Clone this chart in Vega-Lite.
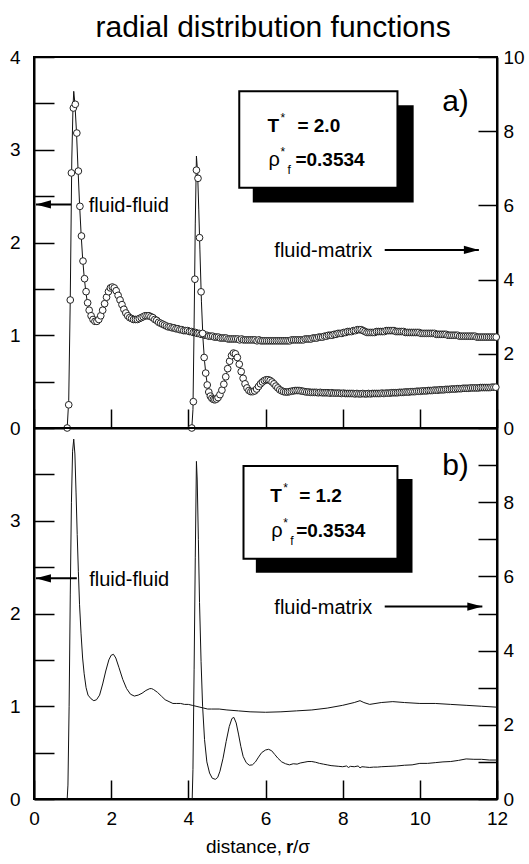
{
"$schema":"https://vega.github.io/schema/vega-lite/v6.json",
"padding":{"left":5,"top":13,"right":5,"bottom":5},
"title":{"text":"radial distribution functions","font":"Liberation Sans","fontSize":30,"fontWeight":"normal","color":"black","anchor":"middle","offset":4,"dx":8},
"datasets":{
"ffa":[{"r":0.86,"g":0},{"r":0.9,"g":0.25},{"r":0.94,"g":1.38},{"r":0.97,"g":2.75},{"r":1.02,"g":3.45},{"r":1.07,"g":3.49},{"r":1.11,"g":3.18},{"r":1.15,"g":2.77},{"r":1.19,"g":2.39},{"r":1.23,"g":2.07},{"r":1.27,"g":1.8},{"r":1.31,"g":1.61},{"r":1.35,"g":1.47},{"r":1.39,"g":1.35},{"r":1.43,"g":1.27},{"r":1.48,"g":1.21},{"r":1.53,"g":1.17},{"r":1.58,"g":1.15},{"r":1.63,"g":1.15},{"r":1.68,"g":1.17},{"r":1.73,"g":1.21},{"r":1.78,"g":1.27},{"r":1.83,"g":1.34},{"r":1.88,"g":1.41},{"r":1.93,"g":1.47},{"r":1.98,"g":1.51},{"r":2.03,"g":1.52},{"r":2.08,"g":1.51},{"r":2.13,"g":1.48},{"r":2.18,"g":1.43},{"r":2.23,"g":1.38},{"r":2.28,"g":1.33},{"r":2.33,"g":1.28},{"r":2.38,"g":1.24},{"r":2.43,"g":1.21},{"r":2.48,"g":1.19},{"r":2.53,"g":1.18},{"r":2.58,"g":1.17},{"r":2.63,"g":1.17},{"r":2.68,"g":1.17},{"r":2.73,"g":1.18},{"r":2.78,"g":1.19},{"r":2.83,"g":1.2},{"r":2.88,"g":1.21},{"r":2.93,"g":1.21},{"r":2.98,"g":1.21},{"r":3.03,"g":1.2},{"r":3.08,"g":1.19},{"r":3.13,"g":1.17},{"r":3.18,"g":1.16},{"r":3.23,"g":1.14},{"r":3.28,"g":1.13},{"r":3.33,"g":1.12},{"r":3.38,"g":1.11},{"r":3.43,"g":1.1},{"r":3.48,"g":1.09},{"r":3.53,"g":1.09},{"r":3.58,"g":1.08},{"r":3.63,"g":1.08},{"r":3.68,"g":1.07},{"r":3.73,"g":1.07},{"r":3.78,"g":1.06},{"r":3.83,"g":1.06},{"r":3.88,"g":1.05},{"r":3.93,"g":1.05},{"r":3.98,"g":1.05},{"r":4.03,"g":1.04},{"r":4.08,"g":1.04},{"r":4.13,"g":1.03},{"r":4.18,"g":1.03},{"r":4.23,"g":1.02},{"r":4.28,"g":1.02},{"r":4.33,"g":1.01},{"r":4.38,"g":1.01},{"r":4.43,"g":1},{"r":4.48,"g":1},{"r":4.53,"g":0.99},{"r":4.58,"g":0.99},{"r":4.63,"g":0.99},{"r":4.68,"g":0.98},{"r":4.73,"g":0.98},{"r":4.78,"g":0.98},{"r":4.83,"g":0.97},{"r":4.88,"g":0.97},{"r":4.93,"g":0.97},{"r":4.98,"g":0.97},{"r":5.03,"g":0.96},{"r":5.08,"g":0.96},{"r":5.13,"g":0.96},{"r":5.18,"g":0.96},{"r":5.23,"g":0.96},{"r":5.28,"g":0.96},{"r":5.33,"g":0.95},{"r":5.38,"g":0.96},{"r":5.43,"g":0.95},{"r":5.48,"g":0.95},{"r":5.53,"g":0.95},{"r":5.58,"g":0.95},{"r":5.63,"g":0.95},{"r":5.68,"g":0.95},{"r":5.73,"g":0.95},{"r":5.78,"g":0.94},{"r":5.83,"g":0.95},{"r":5.88,"g":0.94},{"r":5.93,"g":0.94},{"r":5.98,"g":0.94},{"r":6.03,"g":0.94},{"r":6.08,"g":0.94},{"r":6.13,"g":0.94},{"r":6.18,"g":0.94},{"r":6.23,"g":0.94},{"r":6.28,"g":0.94},{"r":6.33,"g":0.94},{"r":6.38,"g":0.94},{"r":6.43,"g":0.94},{"r":6.48,"g":0.94},{"r":6.53,"g":0.94},{"r":6.58,"g":0.94},{"r":6.63,"g":0.94},{"r":6.68,"g":0.95},{"r":6.73,"g":0.95},{"r":6.78,"g":0.95},{"r":6.83,"g":0.95},{"r":6.88,"g":0.95},{"r":6.93,"g":0.95},{"r":6.98,"g":0.95},{"r":7.03,"g":0.96},{"r":7.08,"g":0.96},{"r":7.13,"g":0.96},{"r":7.18,"g":0.96},{"r":7.23,"g":0.97},{"r":7.28,"g":0.97},{"r":7.33,"g":0.97},{"r":7.38,"g":0.98},{"r":7.43,"g":0.98},{"r":7.48,"g":0.98},{"r":7.53,"g":0.99},{"r":7.58,"g":0.99},{"r":7.63,"g":1},{"r":7.68,"g":1},{"r":7.73,"g":1},{"r":7.78,"g":1.01},{"r":7.83,"g":1.01},{"r":7.88,"g":1.02},{"r":7.93,"g":1.02},{"r":7.98,"g":1.02},{"r":8.03,"g":1.03},{"r":8.08,"g":1.03},{"r":8.13,"g":1.04},{"r":8.18,"g":1.04},{"r":8.23,"g":1.04},{"r":8.28,"g":1.05},{"r":8.33,"g":1.05},{"r":8.38,"g":1.06},{"r":8.43,"g":1.06},{"r":8.48,"g":1.06},{"r":8.53,"g":1.05},{"r":8.58,"g":1.04},{"r":8.63,"g":1.03},{"r":8.68,"g":1.03},{"r":8.73,"g":1.03},{"r":8.78,"g":1.03},{"r":8.83,"g":1.03},{"r":8.88,"g":1.04},{"r":8.93,"g":1.04},{"r":8.98,"g":1.04},{"r":9.03,"g":1.04},{"r":9.08,"g":1.04},{"r":9.13,"g":1.05},{"r":9.18,"g":1.05},{"r":9.23,"g":1.05},{"r":9.28,"g":1.05},{"r":9.33,"g":1.05},{"r":9.38,"g":1.04},{"r":9.43,"g":1.04},{"r":9.48,"g":1.04},{"r":9.53,"g":1.04},{"r":9.58,"g":1.04},{"r":9.63,"g":1.03},{"r":9.68,"g":1.03},{"r":9.73,"g":1.03},{"r":9.78,"g":1.03},{"r":9.83,"g":1.03},{"r":9.88,"g":1.03},{"r":9.93,"g":1.03},{"r":9.98,"g":1.03},{"r":10.03,"g":1.02},{"r":10.08,"g":1.02},{"r":10.13,"g":1.02},{"r":10.18,"g":1.02},{"r":10.23,"g":1.02},{"r":10.28,"g":1.02},{"r":10.33,"g":1.02},{"r":10.38,"g":1.02},{"r":10.43,"g":1.01},{"r":10.48,"g":1.01},{"r":10.53,"g":1.01},{"r":10.58,"g":1.01},{"r":10.63,"g":1.01},{"r":10.68,"g":1.01},{"r":10.73,"g":1},{"r":10.78,"g":1},{"r":10.83,"g":1},{"r":10.88,"g":1},{"r":10.93,"g":1},{"r":10.98,"g":1},{"r":11.03,"g":0.99},{"r":11.08,"g":0.99},{"r":11.13,"g":0.99},{"r":11.18,"g":0.99},{"r":11.23,"g":0.99},{"r":11.28,"g":0.99},{"r":11.33,"g":0.99},{"r":11.38,"g":0.99},{"r":11.43,"g":0.99},{"r":11.48,"g":0.98},{"r":11.53,"g":0.98},{"r":11.58,"g":0.98},{"r":11.63,"g":0.98},{"r":11.68,"g":0.98},{"r":11.73,"g":0.98},{"r":11.78,"g":0.98},{"r":11.83,"g":0.98},{"r":11.88,"g":0.98},{"r":11.93,"g":0.98},{"r":11.98,"g":0.98}],
"fma":[{"r":4.09,"g":0},{"r":4.13,"g":0.71},{"r":4.17,"g":4.01},{"r":4.21,"g":6.95},{"r":4.25,"g":6.73},{"r":4.29,"g":5.13},{"r":4.33,"g":3.67},{"r":4.37,"g":2.55},{"r":4.41,"g":1.9},{"r":4.45,"g":1.48},{"r":4.49,"g":1.16},{"r":4.53,"g":0.97},{"r":4.57,"g":0.86},{"r":4.61,"g":0.8},{"r":4.65,"g":0.77},{"r":4.69,"g":0.76},{"r":4.73,"g":0.78},{"r":4.77,"g":0.82},{"r":4.82,"g":0.9},{"r":4.87,"g":1.02},{"r":4.92,"g":1.18},{"r":4.97,"g":1.38},{"r":5.02,"g":1.6},{"r":5.07,"g":1.8},{"r":5.12,"g":1.95},{"r":5.17,"g":2.02},{"r":5.22,"g":2},{"r":5.27,"g":1.9},{"r":5.32,"g":1.72},{"r":5.37,"g":1.52},{"r":5.42,"g":1.34},{"r":5.47,"g":1.19},{"r":5.52,"g":1.08},{"r":5.57,"g":1.01},{"r":5.62,"g":0.98},{"r":5.67,"g":0.98},{"r":5.72,"g":1},{"r":5.77,"g":1.05},{"r":5.82,"g":1.12},{"r":5.87,"g":1.19},{"r":5.92,"g":1.24},{"r":5.97,"g":1.28},{"r":6.02,"g":1.3},{"r":6.07,"g":1.3},{"r":6.12,"g":1.28},{"r":6.17,"g":1.24},{"r":6.22,"g":1.19},{"r":6.27,"g":1.13},{"r":6.32,"g":1.08},{"r":6.37,"g":1.03},{"r":6.42,"g":1},{"r":6.47,"g":0.98},{"r":6.52,"g":0.97},{"r":6.57,"g":0.97},{"r":6.62,"g":0.98},{"r":6.67,"g":0.99},{"r":6.72,"g":1},{"r":6.77,"g":1.01},{"r":6.82,"g":1.01},{"r":6.87,"g":1.01},{"r":6.92,"g":1},{"r":6.97,"g":0.99},{"r":7.02,"g":0.98},{"r":7.07,"g":0.97},{"r":7.12,"g":0.97},{"r":7.17,"g":0.96},{"r":7.22,"g":0.96},{"r":7.27,"g":0.96},{"r":7.32,"g":0.96},{"r":7.37,"g":0.95},{"r":7.42,"g":0.96},{"r":7.47,"g":0.95},{"r":7.52,"g":0.95},{"r":7.57,"g":0.95},{"r":7.62,"g":0.95},{"r":7.67,"g":0.94},{"r":7.72,"g":0.95},{"r":7.77,"g":0.94},{"r":7.82,"g":0.94},{"r":7.87,"g":0.94},{"r":7.92,"g":0.94},{"r":7.97,"g":0.93},{"r":8.02,"g":0.94},{"r":8.07,"g":0.93},{"r":8.12,"g":0.93},{"r":8.17,"g":0.93},{"r":8.22,"g":0.93},{"r":8.27,"g":0.93},{"r":8.32,"g":0.92},{"r":8.37,"g":0.93},{"r":8.42,"g":0.92},{"r":8.47,"g":0.92},{"r":8.52,"g":0.93},{"r":8.57,"g":0.92},{"r":8.62,"g":0.92},{"r":8.67,"g":0.93},{"r":8.72,"g":0.92},{"r":8.77,"g":0.93},{"r":8.82,"g":0.93},{"r":8.87,"g":0.93},{"r":8.92,"g":0.93},{"r":8.97,"g":0.93},{"r":9.02,"g":0.94},{"r":9.07,"g":0.93},{"r":9.12,"g":0.94},{"r":9.17,"g":0.94},{"r":9.22,"g":0.94},{"r":9.27,"g":0.95},{"r":9.32,"g":0.95},{"r":9.37,"g":0.95},{"r":9.42,"g":0.95},{"r":9.47,"g":0.96},{"r":9.52,"g":0.96},{"r":9.57,"g":0.96},{"r":9.62,"g":0.97},{"r":9.67,"g":0.97},{"r":9.72,"g":0.97},{"r":9.77,"g":0.98},{"r":9.82,"g":0.98},{"r":9.87,"g":0.98},{"r":9.92,"g":0.99},{"r":9.97,"g":0.99},{"r":10.02,"g":0.99},{"r":10.07,"g":1},{"r":10.12,"g":1},{"r":10.17,"g":1},{"r":10.22,"g":1.01},{"r":10.27,"g":1.01},{"r":10.32,"g":1.01},{"r":10.37,"g":1.02},{"r":10.42,"g":1.02},{"r":10.47,"g":1.02},{"r":10.52,"g":1.03},{"r":10.57,"g":1.03},{"r":10.62,"g":1.03},{"r":10.67,"g":1.04},{"r":10.72,"g":1.04},{"r":10.77,"g":1.04},{"r":10.82,"g":1.05},{"r":10.87,"g":1.05},{"r":10.92,"g":1.05},{"r":10.97,"g":1.06},{"r":11.02,"g":1.06},{"r":11.07,"g":1.06},{"r":11.12,"g":1.07},{"r":11.17,"g":1.07},{"r":11.22,"g":1.07},{"r":11.27,"g":1.07},{"r":11.32,"g":1.08},{"r":11.37,"g":1.08},{"r":11.42,"g":1.08},{"r":11.47,"g":1.08},{"r":11.52,"g":1.08},{"r":11.57,"g":1.09},{"r":11.62,"g":1.09},{"r":11.67,"g":1.09},{"r":11.72,"g":1.09},{"r":11.77,"g":1.09},{"r":11.82,"g":1.09},{"r":11.87,"g":1.1},{"r":11.92,"g":1.1},{"r":11.97,"g":1.1}],
"ffa_line":[{"r":0.8,"g":0},{"r":0.86,"g":0},{"r":0.9,"g":0.3},{"r":0.94,"g":1.4},{"r":0.98,"g":2.9},{"r":1.01,"g":3.45},{"r":1.03,"g":3.63},{"r":1.06,"g":3.5},{"r":1.1,"g":3.2},{"r":1.14,"g":2.8},{"r":1.18,"g":2.42},{"r":1.22,"g":2.1},{"r":1.26,"g":1.83},{"r":1.3,"g":1.63},{"r":1.34,"g":1.48},{"r":1.38,"g":1.36},{"r":1.42,"g":1.27},{"r":1.48,"g":1.2},{"r":1.55,"g":1.15},{"r":1.62,"g":1.14},{"r":1.7,"g":1.18},{"r":1.8,"g":1.3},{"r":1.9,"g":1.44},{"r":2,"g":1.52},{"r":2.05,"g":1.53},{"r":2.1,"g":1.51},{"r":2.2,"g":1.43},{"r":2.3,"g":1.32},{"r":2.4,"g":1.23},{"r":2.5,"g":1.18},{"r":2.6,"g":1.17},{"r":2.7,"g":1.18},{"r":2.8,"g":1.2},{"r":2.9,"g":1.21},{"r":3,"g":1.21},{"r":3.1,"g":1.18},{"r":3.2,"g":1.15},{"r":3.4,"g":1.11},{"r":3.6,"g":1.08},{"r":3.8,"g":1.06},{"r":4,"g":1.05},{"r":4.4,"g":1.01},{"r":4.8,"g":0.98},{"r":5.2,"g":0.96},{"r":6,"g":0.94},{"r":6.6,"g":0.94},{"r":7,"g":0.95},{"r":7.5,"g":0.98},{"r":8,"g":1.02},{"r":8.45,"g":1.06},{"r":8.6,"g":1.04},{"r":9,"g":1.04},{"r":9.3,"g":1.05},{"r":10,"g":1.03},{"r":11,"g":1},{"r":12,"g":0.98}],
"fma_line":[{"r":4.05,"g":0},{"r":4.09,"g":0},{"r":4.12,"g":0.5},{"r":4.15,"g":2.8},{"r":4.18,"g":5.5},{"r":4.21,"g":7.33},{"r":4.24,"g":6.9},{"r":4.27,"g":5.9},{"r":4.3,"g":4.8},{"r":4.34,"g":3.4},{"r":4.38,"g":2.4},{"r":4.42,"g":1.8},{"r":4.46,"g":1.4},{"r":4.5,"g":1.12},{"r":4.55,"g":0.92},{"r":4.6,"g":0.82},{"r":4.7,"g":0.77},{"r":4.8,"g":0.86},{"r":4.9,"g":1.12},{"r":5,"g":1.5},{"r":5.1,"g":1.9},{"r":5.2,"g":2.02},{"r":5.3,"g":1.8},{"r":5.4,"g":1.4},{"r":5.5,"g":1.1},{"r":5.6,"g":0.98},{"r":5.7,"g":0.99},{"r":5.8,"g":1.1},{"r":5.9,"g":1.22},{"r":6.05,"g":1.3},{"r":6.2,"g":1.21},{"r":6.3,"g":1.1},{"r":6.4,"g":1.01},{"r":6.5,"g":0.97},{"r":6.7,"g":0.99},{"r":6.85,"g":1.01},{"r":7,"g":0.98},{"r":7.5,"g":0.95},{"r":8,"g":0.94},{"r":8.5,"g":0.92},{"r":9,"g":0.94},{"r":9.5,"g":0.96},{"r":10,"g":0.99},{"r":10.5,"g":1.02},{"r":11,"g":1.06},{"r":11.5,"g":1.08},{"r":12,"g":1.1}],
"ffb":[{"r":0.8,"g":0},{"r":0.86,"g":0},{"r":0.88,"g":0.15},{"r":0.91,"g":1},{"r":0.94,"g":2.2},{"r":0.97,"g":3.2},{"r":1,"g":3.75},{"r":1.03,"g":3.88},{"r":1.06,"g":3.72},{"r":1.09,"g":3.3},{"r":1.12,"g":2.85},{"r":1.15,"g":2.45},{"r":1.18,"g":2.1},{"r":1.22,"g":1.78},{"r":1.26,"g":1.52},{"r":1.3,"g":1.35},{"r":1.35,"g":1.2},{"r":1.4,"g":1.12},{"r":1.48,"g":1.08},{"r":1.55,"g":1.06},{"r":1.62,"g":1.07},{"r":1.7,"g":1.12},{"r":1.78,"g":1.24},{"r":1.86,"g":1.38},{"r":1.94,"g":1.5},{"r":2,"g":1.55},{"r":2.06,"g":1.56},{"r":2.12,"g":1.52},{"r":2.2,"g":1.42},{"r":2.3,"g":1.29},{"r":2.4,"g":1.19},{"r":2.5,"g":1.13},{"r":2.6,"g":1.11},{"r":2.7,"g":1.12},{"r":2.8,"g":1.14},{"r":2.9,"g":1.17},{"r":3,"g":1.19},{"r":3.05,"g":1.19},{"r":3.1,"g":1.18},{"r":3.2,"g":1.15},{"r":3.3,"g":1.11},{"r":3.4,"g":1.07},{"r":3.5,"g":1.05},{"r":3.6,"g":1.03},{"r":3.7,"g":1.03},{"r":3.8,"g":1.03},{"r":3.9,"g":1.02},{"r":4,"g":1.02},{"r":4.1,"g":1.01},{"r":4.2,"g":1},{"r":4.3,"g":0.99},{"r":4.4,"g":0.98},{"r":4.5,"g":0.97},{"r":4.6,"g":0.97},{"r":4.8,"g":0.97},{"r":5,"g":0.96},{"r":5.3,"g":0.95},{"r":5.6,"g":0.94},{"r":6,"g":0.935},{"r":6.4,"g":0.94},{"r":6.8,"g":0.95},{"r":7.2,"g":0.96},{"r":7.6,"g":0.98},{"r":8,"g":1.01},{"r":8.3,"g":1.04},{"r":8.45,"g":1.06},{"r":8.55,"g":1.04},{"r":8.7,"g":1.02},{"r":9,"g":1.04},{"r":9.3,"g":1.05},{"r":9.6,"g":1.04},{"r":10,"g":1.03},{"r":10.4,"g":1.03},{"r":10.8,"g":1.02},{"r":11.2,"g":1.01},{"r":11.6,"g":1},{"r":12,"g":0.99}],
"fmb":[{"r":4.05,"g":0},{"r":4.1,"g":0},{"r":4.12,"g":0.8},{"r":4.15,"g":3.5},{"r":4.18,"g":6.5},{"r":4.21,"g":9.1},{"r":4.23,"g":8.6},{"r":4.26,"g":7},{"r":4.29,"g":5.3},{"r":4.33,"g":3.7},{"r":4.37,"g":2.5},{"r":4.42,"g":1.6},{"r":4.48,"g":1},{"r":4.55,"g":0.7},{"r":4.62,"g":0.56},{"r":4.7,"g":0.53},{"r":4.76,"g":0.58},{"r":4.82,"g":0.75},{"r":4.9,"g":1.1},{"r":4.98,"g":1.55},{"r":5.06,"g":1.95},{"r":5.13,"g":2.17},{"r":5.18,"g":2.2},{"r":5.24,"g":2.05},{"r":5.3,"g":1.75},{"r":5.36,"g":1.42},{"r":5.42,"g":1.15},{"r":5.5,"g":0.98},{"r":5.58,"g":0.91},{"r":5.66,"g":0.92},{"r":5.74,"g":1},{"r":5.82,"g":1.13},{"r":5.9,"g":1.25},{"r":6,"g":1.32},{"r":6.08,"g":1.34},{"r":6.16,"g":1.3},{"r":6.24,"g":1.2},{"r":6.32,"g":1.1},{"r":6.42,"g":1},{"r":6.52,"g":0.95},{"r":6.62,"g":0.92},{"r":6.72,"g":0.95},{"r":6.82,"g":0.94},{"r":6.9,"g":0.97},{"r":7,"g":0.99},{"r":7.1,"g":1.01},{"r":7.2,"g":1.01},{"r":7.3,"g":0.99},{"r":7.4,"g":0.96},{"r":7.5,"g":0.94},{"r":7.6,"g":0.92},{"r":7.7,"g":0.9},{"r":7.8,"g":0.89},{"r":7.9,"g":0.88},{"r":8,"g":0.87},{"r":8.1,"g":0.89},{"r":8.15,"g":0.85},{"r":8.2,"g":0.88},{"r":8.3,"g":0.87},{"r":8.4,"g":0.89},{"r":8.45,"g":0.84},{"r":8.5,"g":0.87},{"r":8.6,"g":0.86},{"r":8.7,"g":0.85},{"r":8.8,"g":0.86},{"r":8.9,"g":0.86},{"r":9,"g":0.87},{"r":9.2,"g":0.88},{"r":9.4,"g":0.89},{"r":9.6,"g":0.91},{"r":9.8,"g":0.92},{"r":10,"g":0.96},{"r":10.2,"g":0.96},{"r":10.4,"g":0.98},{"r":10.6,"g":1},{"r":10.8,"g":1.01},{"r":11,"g":1.04},{"r":11.2,"g":1.08},{"r":11.4,"g":1.07},{"r":11.6,"g":1.07},{"r":11.8,"g":1.05},{"r":12,"g":1.05}]
},
"spacing":0,
"bounds":"flush",
"vconcat":[
{
"width":463,"height":371,
"layer":[
{"layer":[
{"data":{"name":"ffa_line"},"mark":{"type":"line","color":"#111","strokeWidth":1},
"encoding":{"x":{"field":"r","type":"quantitative","scale":{"domain":[0,12],"nice":false,"zero":false},"axis":{"values":[0,1,2,3,4,5,6,7,8,9,10,11,12],"labels":false,"title":null,"tickSize":{"condition":{"test":"datum.value % 2 === 0","value":-19},"value":-11}}},
"y":{"field":"g","type":"quantitative","scale":{"domain":[0,4],"nice":false,"zero":false},"axis":{"values":[0,0.5,1,1.5,2,2.5,3,3.5,4],"labelExpr":"datum.value % 1 === 0 ? '' + datum.value : ''","tickSize":-20,"labelPadding":34,"title":null,"minExtent":28,"maxExtent":28}}}},
{"data":{"name":"ffa"},"mark":{"type":"point","shape":"circle","filled":true,"fill":"white","stroke":"#222","strokeWidth":1,"size":45,"opacity":1},
"encoding":{"x":{"field":"r","type":"quantitative","scale":{"domain":[0,12],"nice":false,"zero":false}},"y":{"field":"g","type":"quantitative","scale":{"domain":[0,4],"nice":false,"zero":false}}}},
{"data":{"values":[{}]},"mark":{"type":"rect","color":"black"},
"encoding":{"x":{"datum":5.67,"type":"quantitative","scale":{"domain":[0,12],"nice":false,"zero":false}},"x2":{"datum":9.84},"y":{"datum":3.48,"type":"quantitative","scale":{"domain":[0,4],"nice":false,"zero":false}},"y2":{"datum":2.43}}},
{"data":{"values":[{}]},"mark":{"type":"rect","fill":"white","stroke":"black","strokeWidth":2},
"encoding":{"x":{"datum":5.32,"type":"quantitative","scale":{"domain":[0,12],"nice":false,"zero":false}},"x2":{"datum":9.42},"y":{"datum":3.63,"type":"quantitative","scale":{"domain":[0,4],"nice":false,"zero":false}},"y2":{"datum":2.59}}},
{"data":{"values":[{}]},
"encoding":{"x":{"datum":6.05,"type":"quantitative","scale":{"domain":[0,12],"nice":false,"zero":false}},"y":{"datum":3.195,"type":"quantitative","scale":{"domain":[0,4],"nice":false,"zero":false}}},
"layer":[
{"mark":{"type":"text","text":"T","font":"Liberation Sans","fontWeight":"bold","fontSize":19,"align":"left","baseline":"alphabetic","color":"black"}},
{"mark":{"type":"text","text":"*","font":"Liberation Sans","fontSize":12,"align":"left","baseline":"alphabetic","dx":13,"dy":-10,"color":"black"}},
{"mark":{"type":"text","text":"= 2.0","font":"Liberation Sans","fontWeight":"bold","fontSize":19,"align":"left","baseline":"alphabetic","dx":30,"color":"black"}}
]},
{"data":{"values":[{}]},
"encoding":{"x":{"datum":6.05,"type":"quantitative","scale":{"domain":[0,12],"nice":false,"zero":false}},"y":{"datum":2.825,"type":"quantitative","scale":{"domain":[0,4],"nice":false,"zero":false}}},
"layer":[
{"mark":{"type":"text","text":"ρ","font":"Liberation Sans","fontSize":20,"align":"left","baseline":"alphabetic","dx":1,"color":"black"}},
{"mark":{"type":"text","text":"*","font":"Liberation Sans","fontSize":12,"align":"left","baseline":"alphabetic","dx":13,"dy":-10,"color":"black"}},
{"mark":{"type":"text","text":"f","font":"Liberation Sans","fontSize":12,"align":"left","baseline":"alphabetic","dx":20,"dy":8,"color":"black"}},
{"mark":{"type":"text","text":"=0.3534","font":"Liberation Sans","fontWeight":"bold","fontSize":19,"align":"left","baseline":"alphabetic","dx":28,"color":"black"}}
]},
{"data":{"values":[{}]},"mark":{"type":"rule","strokeWidth":2,"color":"black"},
"encoding":{"x":{"datum":0.05,"type":"quantitative","scale":{"domain":[0,12],"nice":false,"zero":false}},"x2":{"datum":0.96},"y":{"datum":2.41,"type":"quantitative","scale":{"domain":[0,4],"nice":false,"zero":false}}}},
{"data":{"values":[{}]},"mark":{"type":"point","shape":"M0,0L2,-0.55L2,0.55Z","filled":true,"color":"black","size":225,"opacity":1},
"encoding":{"x":{"datum":0.05,"type":"quantitative","scale":{"domain":[0,12],"nice":false,"zero":false}},"y":{"datum":2.41,"type":"quantitative","scale":{"domain":[0,4],"nice":false,"zero":false}}}},
{"data":{"values":[{}]},"mark":{"type":"text","text":"fluid-fluid","font":"Liberation Sans","fontSize":20,"align":"left","baseline":"middle","dy":2,"color":"black"},
"encoding":{"x":{"datum":1.42,"type":"quantitative","scale":{"domain":[0,12],"nice":false,"zero":false}},"y":{"datum":2.41,"type":"quantitative","scale":{"domain":[0,4],"nice":false,"zero":false}}}},
{"data":{"values":[{}]},"mark":{"type":"rule","strokeWidth":2,"color":"black"},
"encoding":{"x":{"datum":9.09,"type":"quantitative","scale":{"domain":[0,12],"nice":false,"zero":false}},"x2":{"datum":11.53},"y":{"datum":1.92,"type":"quantitative","scale":{"domain":[0,4],"nice":false,"zero":false}}}},
{"data":{"values":[{}]},"mark":{"type":"point","shape":"M0,0L-2,-0.55L-2,0.55Z","filled":true,"color":"black","size":225,"opacity":1},
"encoding":{"x":{"datum":11.53,"type":"quantitative","scale":{"domain":[0,12],"nice":false,"zero":false}},"y":{"datum":1.92,"type":"quantitative","scale":{"domain":[0,4],"nice":false,"zero":false}}}},
{"data":{"values":[{}]},"mark":{"type":"text","text":"fluid-matrix","font":"Liberation Sans","fontSize":20,"align":"left","baseline":"middle","dy":1,"color":"black"},
"encoding":{"x":{"datum":6.23,"type":"quantitative","scale":{"domain":[0,12],"nice":false,"zero":false}},"y":{"datum":1.92,"type":"quantitative","scale":{"domain":[0,4],"nice":false,"zero":false}}}},
{"data":{"values":[{}]},"mark":{"type":"text","text":"a)","font":"Liberation Sans","fontSize":30,"align":"right","baseline":"alphabetic","color":"black"},
"encoding":{"x":{"datum":11.27,"type":"quantitative","scale":{"domain":[0,12],"nice":false,"zero":false}},"y":{"datum":3.42,"type":"quantitative","scale":{"domain":[0,4],"nice":false,"zero":false}}}}
]},
{"layer":[
{"data":{"name":"fma_line"},"mark":{"type":"line","color":"#111","strokeWidth":1},
"encoding":{"x":{"field":"r","type":"quantitative","scale":{"domain":[0,12],"nice":false,"zero":false}},
"y":{"field":"g","type":"quantitative","scale":{"domain":[0,10],"nice":false,"zero":false},"axis":{"orient":"right","values":[0,1,2,3,4,5,6,7,8,9,10],"labelExpr":"datum.value % 2 === 0 ? '' + datum.value : ''","tickSize":-19,"labelPadding":25,"title":null}}}},
{"data":{"name":"fma"},"mark":{"type":"point","shape":"circle","filled":true,"fill":"white","stroke":"#222","strokeWidth":1,"size":45,"opacity":1},
"encoding":{"x":{"field":"r","type":"quantitative","scale":{"domain":[0,12],"nice":false,"zero":false}},"y":{"field":"g","type":"quantitative","scale":{"domain":[0,10],"nice":false,"zero":false}}}}
]}
],
"resolve":{"scale":{"y":"independent"}}
},
{
"width":463,"height":371,
"layer":[
{"layer":[
{"data":{"name":"ffb"},"mark":{"type":"line","color":"#111","strokeWidth":1},
"encoding":{"x":{"field":"r","type":"quantitative","scale":{"domain":[0,12],"nice":false,"zero":false},"axis":{"values":[0,1,2,3,4,5,6,7,8,9,10,11,12],"labelExpr":"datum.value % 2 === 0 ? '' + datum.value : ''","labelPadding":29,"title":null,"tickSize":{"condition":{"test":"datum.value % 2 === 0","value":-19},"value":-11}}},
"y":{"field":"g","type":"quantitative","scale":{"domain":[0,4],"nice":false,"zero":false},"axis":{"values":[0,0.5,1,1.5,2,2.5,3,3.5],"labelExpr":"datum.value % 1 === 0 ? '' + datum.value : ''","tickSize":-20,"labelPadding":34,"title":null,"minExtent":28,"maxExtent":28}}}},
{"data":{"values":[{}]},"mark":{"type":"rect","color":"black"},
"encoding":{"x":{"datum":5.75,"type":"quantitative","scale":{"domain":[0,12],"nice":false,"zero":false}},"x2":{"datum":9.81},"y":{"datum":3.45,"type":"quantitative","scale":{"domain":[0,4],"nice":false,"zero":false}},"y2":{"datum":2.44}}},
{"data":{"values":[{}]},"mark":{"type":"rect","fill":"white","stroke":"black","strokeWidth":2},
"encoding":{"x":{"datum":5.43,"type":"quantitative","scale":{"domain":[0,12],"nice":false,"zero":false}},"x2":{"datum":9.42},"y":{"datum":3.59,"type":"quantitative","scale":{"domain":[0,4],"nice":false,"zero":false}},"y2":{"datum":2.59}}},
{"data":{"values":[{}]},
"encoding":{"x":{"datum":6.12,"type":"quantitative","scale":{"domain":[0,12],"nice":false,"zero":false}},"y":{"datum":3.2,"type":"quantitative","scale":{"domain":[0,4],"nice":false,"zero":false}}},
"layer":[
{"mark":{"type":"text","text":"T","font":"Liberation Sans","fontWeight":"bold","fontSize":19,"align":"left","baseline":"alphabetic","color":"black"}},
{"mark":{"type":"text","text":"*","font":"Liberation Sans","fontSize":12,"align":"left","baseline":"alphabetic","dx":13,"dy":-10,"color":"black"}},
{"mark":{"type":"text","text":"= 1.2","font":"Liberation Sans","fontWeight":"bold","fontSize":19,"align":"left","baseline":"alphabetic","dx":29,"color":"black"}}
]},
{"data":{"values":[{}]},
"encoding":{"x":{"datum":6.12,"type":"quantitative","scale":{"domain":[0,12],"nice":false,"zero":false}},"y":{"datum":2.83,"type":"quantitative","scale":{"domain":[0,4],"nice":false,"zero":false}}},
"layer":[
{"mark":{"type":"text","text":"ρ","font":"Liberation Sans","fontSize":20,"align":"left","baseline":"alphabetic","dx":1,"color":"black"}},
{"mark":{"type":"text","text":"*","font":"Liberation Sans","fontSize":12,"align":"left","baseline":"alphabetic","dx":13,"dy":-10,"color":"black"}},
{"mark":{"type":"text","text":"f","font":"Liberation Sans","fontSize":12,"align":"left","baseline":"alphabetic","dx":20,"dy":8,"color":"black"}},
{"mark":{"type":"text","text":"=0.3534","font":"Liberation Sans","fontWeight":"bold","fontSize":19,"align":"left","baseline":"alphabetic","dx":26,"color":"black"}}
]},
{"data":{"values":[{}]},"mark":{"type":"rule","strokeWidth":2,"color":"black"},
"encoding":{"x":{"datum":0.05,"type":"quantitative","scale":{"domain":[0,12],"nice":false,"zero":false}},"x2":{"datum":1.11},"y":{"datum":2.38,"type":"quantitative","scale":{"domain":[0,4],"nice":false,"zero":false}}}},
{"data":{"values":[{}]},"mark":{"type":"point","shape":"M0,0L2,-0.55L2,0.55Z","filled":true,"color":"black","size":225,"opacity":1},
"encoding":{"x":{"datum":0.05,"type":"quantitative","scale":{"domain":[0,12],"nice":false,"zero":false}},"y":{"datum":2.38,"type":"quantitative","scale":{"domain":[0,4],"nice":false,"zero":false}}}},
{"data":{"values":[{}]},"mark":{"type":"text","text":"fluid-fluid","font":"Liberation Sans","fontSize":20,"align":"left","baseline":"middle","dy":2,"color":"black"},
"encoding":{"x":{"datum":1.43,"type":"quantitative","scale":{"domain":[0,12],"nice":false,"zero":false}},"y":{"datum":2.38,"type":"quantitative","scale":{"domain":[0,4],"nice":false,"zero":false}}}},
{"data":{"values":[{}]},"mark":{"type":"rule","strokeWidth":2,"color":"black"},
"encoding":{"x":{"datum":9.09,"type":"quantitative","scale":{"domain":[0,12],"nice":false,"zero":false}},"x2":{"datum":11.62},"y":{"datum":2.075,"type":"quantitative","scale":{"domain":[0,4],"nice":false,"zero":false}}}},
{"data":{"values":[{}]},"mark":{"type":"point","shape":"M0,0L-2,-0.55L-2,0.55Z","filled":true,"color":"black","size":225,"opacity":1},
"encoding":{"x":{"datum":11.62,"type":"quantitative","scale":{"domain":[0,12],"nice":false,"zero":false}},"y":{"datum":2.075,"type":"quantitative","scale":{"domain":[0,4],"nice":false,"zero":false}}}},
{"data":{"values":[{}]},"mark":{"type":"text","text":"fluid-matrix","font":"Liberation Sans","fontSize":20,"align":"left","baseline":"middle","dy":1,"color":"black"},
"encoding":{"x":{"datum":6.23,"type":"quantitative","scale":{"domain":[0,12],"nice":false,"zero":false}},"y":{"datum":2.075,"type":"quantitative","scale":{"domain":[0,4],"nice":false,"zero":false}}}},
{"data":{"values":[{}]},"mark":{"type":"text","text":"b)","font":"Liberation Sans","fontSize":30,"align":"right","baseline":"alphabetic","color":"black"},
"encoding":{"x":{"datum":11.27,"type":"quantitative","scale":{"domain":[0,12],"nice":false,"zero":false}},"y":{"datum":3.49,"type":"quantitative","scale":{"domain":[0,4],"nice":false,"zero":false}}}},
{"data":{"values":[{}]},
"encoding":{"x":{"datum":4.456,"type":"quantitative","scale":{"domain":[0,12],"nice":false,"zero":false}},"y":{"datum":-0.58,"type":"quantitative","scale":{"domain":[0,4],"nice":false,"zero":false}}},
"layer":[
{"mark":{"type":"text","text":"distance,","font":"Liberation Sans","fontSize":19,"align":"left","baseline":"alphabetic","color":"black"}},
{"mark":{"type":"text","text":"r","font":"Liberation Sans","fontWeight":"bold","fontSize":19,"align":"left","baseline":"alphabetic","dx":80,"color":"black"}},
{"mark":{"type":"text","text":"/σ","font":"Liberation Sans","fontSize":19,"align":"left","baseline":"alphabetic","dx":87,"color":"black"}}
]}
]},
{"layer":[
{"data":{"name":"fmb"},"mark":{"type":"line","color":"#111","strokeWidth":1},
"encoding":{"x":{"field":"r","type":"quantitative","scale":{"domain":[0,12],"nice":false,"zero":false}},
"y":{"field":"g","type":"quantitative","scale":{"domain":[0,10],"nice":false,"zero":false},"axis":{"orient":"right","values":[0,1,2,3,4,5,6,7,8,9],"labelExpr":"datum.value % 2 === 0 ? '' + datum.value : ''","tickSize":-19,"labelPadding":25,"title":null}}}}
]}
],
"resolve":{"scale":{"y":"independent"}}
}
],
"config":{
"view":{"stroke":"black","strokeWidth":2},
"axis":{"domainColor":"black","domainWidth":2,"tickColor":"black","tickWidth":1.5,"labelColor":"black","labelFont":"Liberation Sans","labelFontSize":19,"grid":false,"labelFlush":false,"labelOverlap":false,"labelBound":false}
}
}
